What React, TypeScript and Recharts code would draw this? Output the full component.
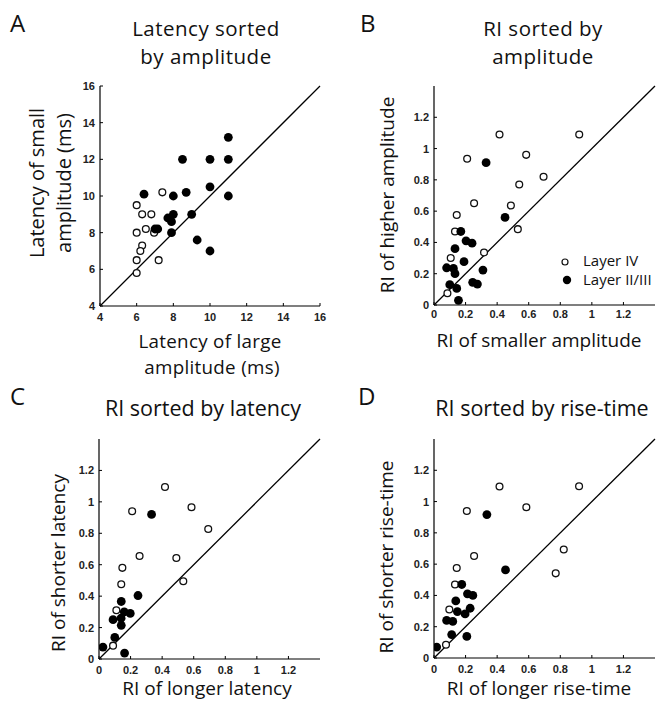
import React from 'react';
import { ScatterChart, Scatter, XAxis, YAxis, ReferenceLine } from 'recharts';

// ---------- tick values ----------
const latencyTicks = [4, 6, 8, 10, 12, 14, 16];
const riTicks = [0, 0.2, 0.4, 0.6, 0.8, 1, 1.2];
const latencyDomain = [4, 16];
const riDomain = [0, 1.4];

// ---------- Panel A: latency (large amp) vs latency (small amp) ----------
const latencyLayerIV = [
  { x: 6, y: 9.5 }, { x: 6.3, y: 9.0 }, { x: 6.8, y: 9.0 }, { x: 6, y: 8.0 },
  { x: 6.5, y: 8.2 }, { x: 6.95, y: 8.0 }, { x: 6.3, y: 7.3 }, { x: 6.2, y: 7.0 },
  { x: 6, y: 6.5 }, { x: 6, y: 5.8 }, { x: 7.2, y: 6.5 }, { x: 7.4, y: 10.2 },
];
const latencyLayerII = [
  { x: 6.4, y: 10.1 }, { x: 7.0, y: 8.2 }, { x: 7.15, y: 8.2 }, { x: 7.7, y: 8.8 },
  { x: 8.0, y: 9.0 }, { x: 7.9, y: 8.6 }, { x: 7.9, y: 8.0 }, { x: 8.0, y: 10.0 },
  { x: 8.5, y: 12.0 }, { x: 8.7, y: 10.2 }, { x: 9.0, y: 9.0 }, { x: 9.3, y: 7.6 },
  { x: 10, y: 12 }, { x: 10, y: 10.5 }, { x: 10, y: 7 }, { x: 11, y: 13.2 },
  { x: 11, y: 12 }, { x: 11, y: 10 },
];

// ---------- Panel B: RI sorted by amplitude ----------
const ampLayerIV = [
  { x: 0.085, y: 0.075 }, { x: 0.106, y: 0.3 }, { x: 0.133, y: 0.47 }, { x: 0.144, y: 0.575 },
  { x: 0.21, y: 0.935 }, { x: 0.254, y: 0.65 }, { x: 0.317, y: 0.336 }, { x: 0.415, y: 1.09 },
  { x: 0.487, y: 0.636 }, { x: 0.54, y: 0.77 }, { x: 0.531, y: 0.485 }, { x: 0.584, y: 0.96 },
  { x: 0.694, y: 0.82 }, { x: 0.92, y: 1.09 },
];
const ampLayerII = [
  { x: 0.08, y: 0.238 }, { x: 0.1, y: 0.13 }, { x: 0.123, y: 0.234 }, { x: 0.133, y: 0.2 },
  { x: 0.133, y: 0.36 }, { x: 0.144, y: 0.106 }, { x: 0.155, y: 0.03 }, { x: 0.17, y: 0.47 },
  { x: 0.19, y: 0.277 }, { x: 0.203, y: 0.41 }, { x: 0.241, y: 0.395 }, { x: 0.245, y: 0.145 },
  { x: 0.275, y: 0.134 }, { x: 0.31, y: 0.223 }, { x: 0.33, y: 0.91 }, { x: 0.45, y: 0.56 },
];

// ---------- Panel C: RI sorted by latency ----------
const latRiLayerIV = [
  { x: 0.089, y: 0.085 }, { x: 0.11, y: 0.31 }, { x: 0.141, y: 0.476 }, { x: 0.148, y: 0.58 },
  { x: 0.21, y: 0.94 }, { x: 0.257, y: 0.655 }, { x: 0.418, y: 1.095 }, { x: 0.49, y: 0.643 },
  { x: 0.534, y: 0.495 }, { x: 0.586, y: 0.966 }, { x: 0.692, y: 0.827 },
];
const latRiLayerII = [
  { x: 0.025, y: 0.076 }, { x: 0.089, y: 0.25 }, { x: 0.1, y: 0.137 }, { x: 0.141, y: 0.366 },
  { x: 0.141, y: 0.214 }, { x: 0.162, y: 0.038 }, { x: 0.14, y: 0.26 }, { x: 0.16, y: 0.3 },
  { x: 0.198, y: 0.29 }, { x: 0.247, y: 0.404 }, { x: 0.333, y: 0.92 },
];

// ---------- Panel D: RI sorted by rise-time ----------
const riseLayerIV = [
  { x: 0.076, y: 0.085 }, { x: 0.097, y: 0.31 }, { x: 0.133, y: 0.47 }, { x: 0.144, y: 0.575 },
  { x: 0.208, y: 0.94 }, { x: 0.254, y: 0.652 }, { x: 0.415, y: 1.096 }, { x: 0.585, y: 0.964 },
  { x: 0.771, y: 0.541 }, { x: 0.822, y: 0.694 }, { x: 0.919, y: 1.098 },
];
const riseLayerII = [
  { x: 0.017, y: 0.07 }, { x: 0.08, y: 0.24 }, { x: 0.119, y: 0.234 }, { x: 0.112, y: 0.15 },
  { x: 0.138, y: 0.365 }, { x: 0.148, y: 0.297 }, { x: 0.176, y: 0.47 }, { x: 0.197, y: 0.282 },
  { x: 0.208, y: 0.138 }, { x: 0.212, y: 0.41 }, { x: 0.229, y: 0.318 }, { x: 0.246, y: 0.4 },
  { x: 0.335, y: 0.917 }, { x: 0.453, y: 0.563 },
];

const TEXT_FONT = '"Open Sans", "DejaVu Sans", sans-serif';
const TICK_FONT = '"Liberation Sans", Arial, sans-serif';

function OpenDot(p: any) {
  return <circle cx={p.cx} cy={p.cy} r={3.4} fill="#fff" stroke="#111" strokeWidth={1.3} />;
}
function FilledDot(p: any) {
  return <circle cx={p.cx} cy={p.cy} r={4.4} fill="#000" />;
}

function makeXTick(dy: number) {
  return (p: any) => (
    <g>
      <line x1={p.x} y1={p.y} x2={p.x} y2={p.y - 3} stroke="#000" strokeWidth={1} />
      <text x={p.x} y={p.y + dy} textAnchor="middle" fontFamily={TICK_FONT} fontWeight="bold" fontSize={11} fill="#222">
        {String(p.payload.value)}
      </text>
    </g>
  );
}
function makeYTick() {
  return (p: any) => (
    <g>
      <line x1={p.x} y1={p.y} x2={p.x + 3} y2={p.y} stroke="#000" strokeWidth={1} />
      <text x={p.x - 5} y={p.y + 4} textAnchor="end" fontFamily={TICK_FONT} fontWeight="bold" fontSize={11} fill="#222">
        {String(p.payload.value)}
      </text>
    </g>
  );
}

type PanelProps = {
  pl: number; pt: number; pr: number; pb: number;
  domain: number[]; ticks: number[];
  open: { x: number; y: number }[];
  filled: { x: number; y: number }[];
  xDy: number;
  rightPad: number;
};

function Panel({ pl, pt, pr, pb, domain, ticks, open, filled, xDy, rightPad }: PanelProps) {
  const left = pl - 40;
  const top = pt - 10;
  const width = pr - pl + 40 + rightPad;
  const height = pb - pt + 30;
  const axisStyle = { stroke: '#000', strokeWidth: 1.2 };
  return (
    <div style={{ position: 'absolute', left, top, width, height }}>
      <ScatterChart width={width} height={height} margin={{ top: 10, left: 10, right: rightPad, bottom: 0 }}>
        <XAxis
          type="number" dataKey="x" domain={domain} ticks={ticks} allowDataOverflow
          height={20} tickSize={0} tickMargin={0} tickLine={false} interval={0}
          axisLine={axisStyle} tick={makeXTick(xDy)}
        />
        <YAxis
          type="number" dataKey="y" domain={domain} ticks={ticks} allowDataOverflow
          width={30} tickSize={0} tickMargin={0} tickLine={false} interval={0}
          axisLine={axisStyle} tick={makeYTick()}
        />
        <ReferenceLine
          segment={[{ x: domain[0], y: domain[0] }, { x: domain[1], y: domain[1] }]}
          stroke="#000" strokeWidth={1.3} ifOverflow="visible"
        />
        <Scatter data={open} shape={OpenDot} isAnimationActive={false} />
        <Scatter data={filled} shape={FilledDot} isAnimationActive={false} />
      </ScatterChart>
    </div>
  );
}

function T({ x, y, size, children, anchor = 'middle', rotate = false, spacing = 0 }: any) {
  return (
    <text
      x={rotate ? 0 : x} y={rotate ? 0 : y}
      transform={rotate ? `translate(${x},${y}) rotate(-90)` : undefined}
      textAnchor={anchor} fontFamily={TEXT_FONT} fontSize={size} fill="#111"
      letterSpacing={spacing}
    >
      {children}
    </text>
  );
}

export default function App() {
  return (
    <div style={{ position: 'absolute', left: 0, top: 0, width: 660, height: 709, background: '#fff', overflow: 'hidden' }}>
      <Panel pl={100} pt={86} pr={320} pb={306} domain={latencyDomain} ticks={latencyTicks}
        open={latencyLayerIV} filled={latencyLayerII} xDy={15} rightPad={12} />
      <Panel pl={434} pt={86} pr={655} pb={305} domain={riDomain} ticks={riTicks}
        open={ampLayerIV} filled={ampLayerII} xDy={13} rightPad={4} />
      <Panel pl={99} pt={439} pr={320} pb={659} domain={riDomain} ticks={riTicks}
        open={latRiLayerIV} filled={latRiLayerII} xDy={15} rightPad={12} />
      <Panel pl={434} pt={439} pr={655} pb={658} domain={riDomain} ticks={riTicks}
        open={riseLayerIV} filled={riseLayerII} xDy={15} rightPad={4} />

      <svg width={660} height={709} style={{ position: 'absolute', left: 0, top: 0, pointerEvents: 'none' }}>
        {/* panel letters */}
        <T x={10} y={32} size={24} anchor="start">A</T>
        <T x={360} y={32} size={24} anchor="start">B</T>
        <T x={10} y={405} size={24} anchor="start">C</T>
        <T x={358} y={405} size={24} anchor="start">D</T>

        {/* titles */}
        <T x={206} y={36} size={20.5} spacing={0.5}>Latency sorted</T>
        <T x={206} y={64} size={20.5} spacing={0.5}>by amplitude</T>
        <T x={543} y={36} size={20.5} spacing={0.5}>RI sorted by</T>
        <T x={543} y={64} size={20.5} spacing={0.5}>amplitude</T>
        <T x={203} y={416} size={21.5}>RI sorted by latency</T>
        <T x={542} y={416} size={21.5}>RI sorted by rise-time</T>

        {/* axis labels */}
        <T x={210} y={348} size={18.8} spacing={0.3}>Latency of large</T>
        <T x={212} y={374} size={18.8} spacing={0.3}>amplitude (ms)</T>
        <T x={44} y={183} size={20} rotate>Latency of small</T>
        <T x={71} y={183} size={20} rotate>amplitude (ms)</T>

        <T x={539} y={347} size={19}>RI of smaller amplitude</T>
        <T x={394} y={195} size={19} rotate>RI of higher amplitude</T>

        <T x={207} y={695} size={19}>RI of longer latency</T>
        <T x={65} y={563} size={19} rotate>RI of shorter latency</T>

        <T x={539} y={695} size={19}>RI of longer rise-time</T>
        <T x={393} y={557} size={19} rotate>RI of shorter rise-time</T>

        {/* legend */}
        <circle cx={565} cy={262} r={3} fill="#fff" stroke="#111" strokeWidth={1.2} />
        <T x={583} y={266} size={15} anchor="start">Layer IV</T>
        <circle cx={567} cy={280} r={4.2} fill="#000" />
        <T x={583} y={285} size={15} anchor="start">Layer II/III</T>
      </svg>
    </div>
  );
}
